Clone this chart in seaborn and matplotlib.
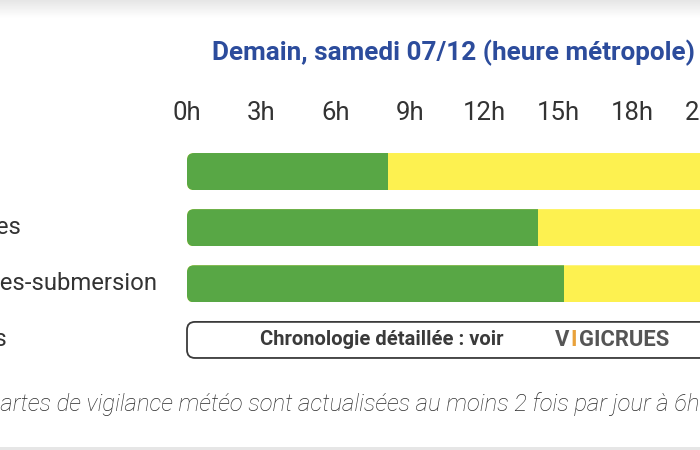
import numpy as np
import pandas as pd
import matplotlib
matplotlib.use("Agg")
import matplotlib.pyplot as plt
import seaborn as sns
from matplotlib.patches import FancyBboxPatch
from matplotlib.transforms import blended_transform_factory

# ---- data ----
categories = ["Vent", "Orages", "Vagues-submersion"]
green_until = [8, 14, 15]          # hours of green vigilance
day_end = [24, 24, 24]             # yellow until end of day
crues_label = "Crues"
hour_ticks = [0, 3, 6, 9, 12, 15, 18, 21]
hour_labels = ["0h", "3h", "6h", "9h", "12h", "15h", "18h", "21h"]
title = "Demain, samedi 07/12 (heure métropole)"
crues_text = "Chronologie détaillée : voir"
footnote = "Les cartes de vigilance météo sont actualisées au moins 2 fois par jour à 6h et 16h."

GREEN = "#58a745"
YELLOW = "#fdf150"
TEXT = "#333333"
BLUE = "#2c4c9c"

sns.set_theme(style="white")
plt.rcParams["font.family"] = ["Roboto", "DejaVu Sans"]

W, H = 700, 450
fig = plt.figure(figsize=(7, 4.5), dpi=100)
fig.patch.set_facecolor("white")

def fx(px):
    return px / W

def fy(py):
    return 1 - py / H

# geometry in pixels
x0_px = 187.0
px_per_hour = 25.1
label_spacing = 0.986   # tick labels are laid out slightly tighter than the bar scale
row_pitch = 56.0
top_px = 171.5 - row_pitch / 2
bot_px = 340.0 + row_pitch / 2
ax = fig.add_axes([fx(x0_px), fy(bot_px), 24 * px_per_hour / W, (bot_px - top_px) / H])

df = pd.DataFrame({"cat": categories, "green": green_until, "end": day_end})
bar_h = 37 / row_pitch
sns.barplot(data=df, x="end", y="cat", color=YELLOW, orient="h", width=bar_h,
            saturation=1, ax=ax, edgecolor="none", linewidth=0)
sns.barplot(data=df, x="green", y="cat", color=GREEN, orient="h", width=bar_h,
            saturation=1, ax=ax, edgecolor="none", linewidth=0)

ax.set_xlim(0, 24)
ax.set_ylim(3.5, -0.5)

aspect = px_per_hour / row_pitch
rad = 7 / px_per_hour
# rounded clipping for each row
for p in ax.patches:
    yc = p.get_y() + p.get_height() / 2
    clip = FancyBboxPatch((0, yc - bar_h / 2), 30, bar_h,
                          boxstyle=f"round,pad=0,rounding_size={rad}",
                          mutation_aspect=aspect, transform=ax.transData)
    p.set_clip_path(clip)

# Crues row box
box_h = 36 / row_pitch
box = FancyBboxPatch((0, 3 - box_h / 2), 30, box_h,
                     boxstyle=f"round,pad=0,rounding_size={8/px_per_hour}",
                     mutation_aspect=aspect, facecolor="white", edgecolor="#3a3a3a",
                     linewidth=1.3, transform=ax.transData, clip_on=False)
ax.add_patch(box)
ax.text((382 - x0_px) / px_per_hour, 3, crues_text, ha="center", va="center",
        fontsize=14.5, fontweight="bold", color="#3a3a3a", clip_on=False)
# VIGICRUES logo as text
lx = (555 - x0_px) / px_per_hour
ax.text(lx, 3, "V", ha="left", va="center", fontsize=15.8, fontweight="bold",
        color="#555555", clip_on=False)
ax.text(lx + 0.61, 3, "I", ha="left", va="center", fontsize=15.8, fontweight="bold",
        color="#e9a23b", clip_on=False)
ax.text(lx + 0.94, 3, "GICRUES", ha="left", va="center", fontsize=15.8, fontweight="bold",
        color="#555555", clip_on=False)

# ticks on top
ax.xaxis.tick_top()
ax.set_xticks([h * label_spacing for h in hour_ticks])
ax.set_xticklabels(hour_labels, fontsize=18.5, color=TEXT)
ax.tick_params(axis="x", length=0, pad=13.5, top=True, bottom=False)
ax.set_yticks([])
ax.set_xlabel("")
ax.set_ylabel("")
for s in ax.spines.values():
    s.set_visible(False)
ax.patch.set_alpha(0)

# row labels, left aligned, partially off canvas
renderer = fig.canvas.get_renderer()
probe = fig.text(0, 0, "Vagu", fontsize=17.2, color=TEXT)
off_px = probe.get_window_extent(renderer).width
probe.remove()
trans = blended_transform_factory(fig.transFigure, ax.transData)
for i, lab in enumerate(categories + [crues_label]):
    fig.text(fx(-off_px), i, lab, transform=trans, ha="left", va="center",
             fontsize=17.2, color=TEXT)

# title
fig.text(fx(695), fy(53), title, ha="right", va="center", fontsize=18.8,
         fontweight="bold", color=BLUE)

# footnote
fn_size = 17.2
probe = fig.text(0, 0, "Les c", fontsize=fn_size, style="italic", fontweight="light")
off2 = probe.get_window_extent(renderer).width
probe.remove()
fig.text(fx(-off2), fy(404), footnote, ha="left", va="center", fontsize=fn_size,
         style="italic", fontweight="light", color="#2a2a2a")

# top shadow and bottom band
bg = fig.add_axes([0, fy(18), 1, 18 / H], zorder=-1)
grad = np.linspace(0.9, 1.0, 50).reshape(-1, 1)
bg.imshow(grad, aspect="auto", cmap="gray", vmin=0, vmax=1, extent=[0, 1, 0, 1])
bg.axis("off")
bb = fig.add_axes([0, 0, 1, 3 / H], zorder=-1)
bb.set_facecolor("#e6e6e6")
bb.set_xticks([]); bb.set_yticks([])
for s in bb.spines.values():
    s.set_visible(False)

fig.savefig("out.png", dpi=100, facecolor="white")
